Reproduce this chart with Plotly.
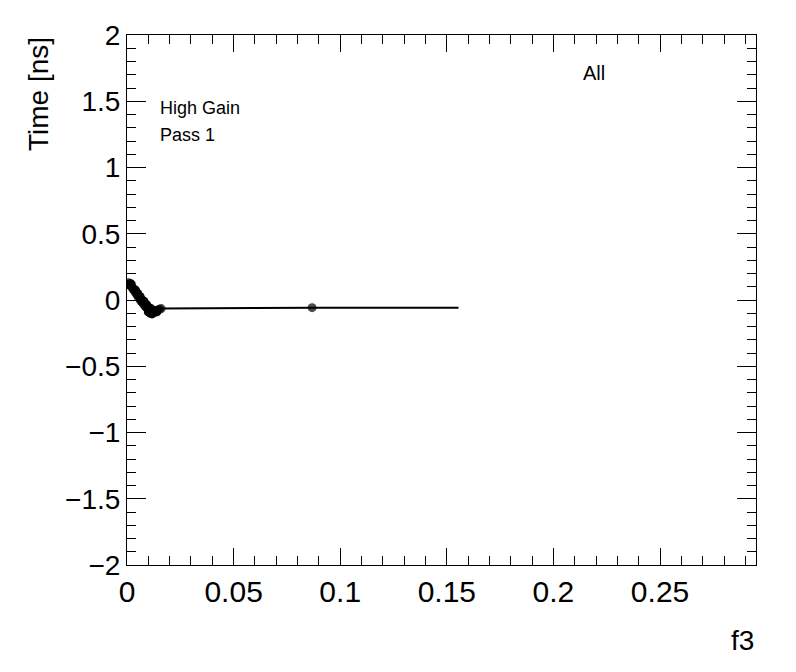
import plotly.graph_objects as go

# f3 vs time offset, high gain, pass 1
f3 = [0.0008, 0.0013, 0.0018, 0.0024, 0.0030, 0.0036, 0.0042, 0.0048, 0.0054,
      0.0060, 0.0066, 0.0072, 0.0078, 0.0084, 0.0090, 0.0096, 0.0102, 0.0108,
      0.0114, 0.0120, 0.0128, 0.0136, 0.0145, 0.0152, 0.0160, 0.0868, 0.1555]
time_ns = [0.13, 0.125, 0.11, 0.095, 0.08, 0.065, 0.05, 0.035, 0.02,
           0.005, -0.01, -0.02, -0.03, -0.045, -0.055, -0.065, -0.075, -0.085,
           -0.09, -0.085, -0.08, -0.08, -0.075, -0.07, -0.065, -0.058, -0.058]
marker_sizes = [9] * (len(f3) - 1) + [0]

# extra overlapping points in the dense cluster near f3 = 0
f3_extra = [0.0010, 0.0020, 0.0028, 0.0040, 0.0050, 0.0062, 0.0070, 0.0080,
            0.0092, 0.0100, 0.0110, 0.0118, 0.0125, 0.0140, 0.0100, 0.0112]
time_extra = [0.115, 0.12, 0.085, 0.075, 0.05, 0.025, 0.0, -0.01,
              -0.035, -0.055, -0.10, -0.105, -0.095, -0.09, -0.09, -0.065]

FONT = "Liberation Sans, Arial, Helvetica, sans-serif"

fig = go.Figure()
fig.add_trace(go.Scatter(
    x=f3, y=time_ns, mode="lines+markers",
    line=dict(color="black", width=2),
    marker=dict(color="black", size=marker_sizes, symbol="circle", line=dict(width=0)),
    showlegend=False,
))
fig.add_trace(go.Scatter(
    x=f3_extra, y=time_extra, mode="markers",
    marker=dict(color="black", size=9, symbol="circle", line=dict(width=0)),
    showlegend=False,
))

axis_common = dict(
    showgrid=False, zeroline=False, showline=True, linecolor="black", linewidth=1,
    mirror="allticks", ticks="inside", tickcolor="black", tickwidth=1, automargin=False,
)
fig.update_xaxes(range=[0, 0.295], dtick=0.05, tick0=0, ticklen=17,
                 tickfont=dict(family=FONT, size=30, color="black"),
                 minor=dict(dtick=0.01, ticks="inside", ticklen=9, tickcolor="black"),
                 **axis_common)
fig.update_yaxes(range=[-2, 2], dtick=0.5, tick0=0, ticklen=19,
                 tickfont=dict(family=FONT, size=28, color="black"),
                 minor=dict(dtick=0.1, ticks="inside", ticklen=9, tickcolor="black"),
                 **axis_common)

fig.add_annotation(text="Time [ns]", xref="paper", yref="paper", x=-0.1415, y=1.0,
                   xanchor="center", yanchor="top", textangle=-90, showarrow=False,
                   font=dict(family=FONT, size=28, color="black"))
fig.add_annotation(text="f3", xref="paper", yref="paper", x=1.0, y=-0.11,
                   xanchor="right", yanchor="top", showarrow=False,
                   font=dict(family=FONT, size=28, color="black"))
fig.add_annotation(text="High Gain", xref="paper", yref="paper", x=0.049, y=0.863,
                   xanchor="left", yanchor="middle", showarrow=False,
                   font=dict(family=FONT, size=18, color="black"))
fig.add_annotation(text="Pass 1", xref="paper", yref="paper", x=0.049, y=0.811,
                   xanchor="left", yanchor="middle", showarrow=False,
                   font=dict(family=FONT, size=18, color="black"))
fig.add_annotation(text="All", xref="paper", yref="paper", x=0.742, y=0.928,
                   xanchor="center", yanchor="middle", showarrow=False,
                   font=dict(family=FONT, size=20, color="black"))

# page body has an 8px margin, so the figure is sized to sit in the 796x672 window
fig.update_layout(width=780, height=656, paper_bgcolor="white", plot_bgcolor="white",
                  margin=dict(l=119, r=32, t=27, b=99), showlegend=False)
fig.write_html("out.html")
